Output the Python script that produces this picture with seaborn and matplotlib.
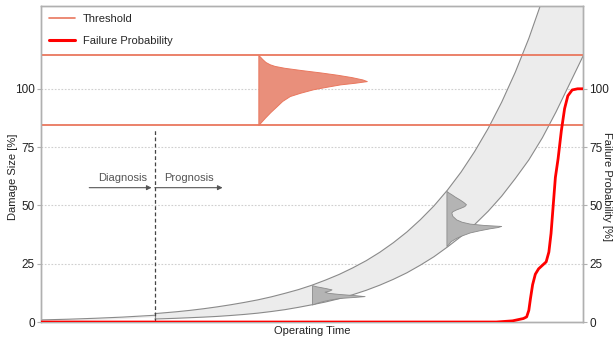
import matplotlib
matplotlib.use("Agg")
import matplotlib.pyplot as plt
from matplotlib.lines import Line2D
import pandas as pd
import seaborn as sns

# ---- data -------------------------------------------------------------
# operating time runs 0..100 (arbitrary units), damage / probability in %
diag_time = 21.0
thresh_low = 84.5
thresh_high = 114.4

# damage trend observed up to the diagnosis point
pre_time = [0, 5, 10, 15, 21]
pre_damage = [0.9, 1.2, 1.6, 2.1, 2.9]

# predicted damage band after the diagnosis point
band_time = [21, 22.5, 25, 27.5, 30, 32.5, 35, 37.5, 40, 42.5, 45, 47.5, 50,
             52.5, 55, 57.5, 60, 62.5, 65, 67.5, 70, 72.5, 75, 77.5, 80, 82.5,
             85, 87.5, 90, 92.5, 95, 97.5, 100]
band_upper = [3.6, 3.9, 4.4, 5.0, 5.7, 6.5, 7.4, 8.4, 9.5, 10.8, 12.3, 13.9, 15.8,
              18.0, 20.4, 23.2, 26.3, 29.9, 34.0, 38.6, 43.9, 49.8, 56.6, 64.3, 73.1,
              83.0, 94.3, 107.1, 121.6, 138.2, 157.0, 178.0, 203.0]
band_lower = [1.3, 1.4, 1.6, 1.85, 2.1, 2.4, 2.8, 3.25, 3.8, 4.5, 5.3, 6.3, 7.4,
              8.6, 10.0, 11.7, 13.6, 15.8, 18.3, 21.1, 24.4, 28.0, 32.2, 36.7, 41.8,
              47.5, 54.0, 61.5, 69.5, 79.0, 90.0, 102.0, 114.0]

# damage distributions (damage level, density width in time units)
pdf1_time = 50.0
pdf1_damage = [15.8, 15.3, 14.6, 14.0, 13.5, 13.0, 12.5, 12.0, 11.5, 11.1, 10.7,
               10.3, 9.6, 9.0, 8.2, 7.5]
pdf1_width = [0.0, 0.8, 2.4, 3.6, 3.2, 2.3, 3.0, 5.1, 8.0, 9.7, 7.5,
              5.0, 3.2, 2.0, 0.8, 0.0]

pdf2_time = 74.8
pdf2_damage = [56.2, 55.5, 54.8, 53.7, 52.6, 51.5, 50.5, 49.7, 48.9, 48.3, 47.5,
               46.9, 45.5, 44.0, 43.0, 42.2, 41.6, 41.2, 40.7, 40.2, 39.3, 38.4,
               37.2, 36.1, 34.7, 33.3, 32.6]
pdf2_width = [0.0, 0.4, 0.9, 1.6, 2.4, 3.1, 3.6, 3.3, 2.5, 1.8, 1.1,
              0.9, 1.1, 1.8, 2.8, 4.3, 7.0, 10.1, 9.4, 8.0, 6.0, 4.3,
              2.9, 1.8, 0.8, 0.3, 0.0]

# time-to-failure distribution between the two thresholds
pdf_fail_time = 40.1
pdf_fail_damage = [114.4, 113.8, 112.8, 111.5, 110.5, 109.8, 109.0, 108.0, 107.0,
                   106.0, 105.0, 104.0, 103.3, 102.6, 101.9, 100.8, 99.8, 98.3,
                   96.9, 94.8, 92.6, 90.0, 87.6, 85.8, 84.5]
pdf_fail_width = [0.0, 0.3, 0.7, 1.3, 2.1, 3.0, 4.8, 8.0, 11.5,
                  14.6, 17.2, 19.2, 20.0, 17.8, 15.1, 12.4, 10.1, 7.7,
                  5.8, 4.4, 3.4, 2.2, 1.2, 0.5, 0.0]

# cumulative failure probability
fail_time = [0, 84.0, 87.0, 89.0, 89.6, 90.0, 90.3, 90.7, 91.2, 91.8, 92.5, 93.2,
             93.7, 94.1, 94.5, 94.9, 95.4, 96.0, 96.6, 97.2, 98.0, 99.0, 100]
fail_prob = [0, 0, 0.5, 1.5, 2.2, 5.0, 10.0, 16.0, 20.5, 22.8, 24.3, 25.8,
             30.0, 38.0, 50.0, 62.0, 70.0, 82.0, 91.5, 97.0, 99.5, 100, 100]

prob_ticks = [0, 25, 50, 75, 100]

# ---- style ------------------------------------------------------------
sns.set_theme(style="white")
plt.rcParams["font.family"] = ["Liberation Sans", "DejaVu Sans"]
plt.rcParams["font.size"] = 8

THRESH_C = "#e9775e"
FAIL_PDF_C = "#e98f7b"
BAND_FILL = "#ececec"
BAND_EDGE = "#8a8a8a"
PDF_FILL = "#b4b4b4"
SPINE_C = "#b0b0b0"
TEXT_C = "#222222"

fig = plt.figure(figsize=(6.15, 3.39), dpi=100)
ax = fig.add_axes([0.0667, 0.0501, 0.8813, 0.9322])
ax2 = ax.twinx()

YMAX = 135.5
ax.set_xlim(0, 100)
ax.set_ylim(0, YMAX)
ax2.set_ylim(0, YMAX)

# grid
for t in prob_ticks[1:]:
    ax.axhline(t, color="#cfcfcf", lw=0.8, ls=(0, (1.5, 1.5)), zorder=0)

# observed trend
ax.fill_between(pre_time, [d - 0.6 for d in pre_damage], pre_damage,
                color=BAND_FILL, lw=0, zorder=1)
sns.lineplot(x=pre_time, y=pre_damage, ax=ax, color=BAND_EDGE, lw=0.8,
             estimator=None, zorder=3)

# predicted band
ax.fill_between(band_time, band_lower, band_upper, color=BAND_FILL, lw=0, zorder=1)
band_df = pd.DataFrame({"t": band_time * 2,
                        "d": band_upper + band_lower,
                        "edge": ["upper"] * len(band_time) + ["lower"] * len(band_time)})
sns.lineplot(data=band_df, x="t", y="d", units="edge", estimator=None, ax=ax,
             color=BAND_EDGE, lw=0.8, zorder=3)
ax.plot([band_time[0], band_time[0]], [band_lower[0], band_upper[0]],
        color=BAND_EDGE, lw=0.8, zorder=3)

# damage distributions inside the band
for base, dmg, wid in [(pdf1_time, pdf1_damage, pdf1_width),
                       (pdf2_time, pdf2_damage, pdf2_width)]:
    ax.fill_betweenx(dmg, base, [base + w for w in wid],
                     facecolor=PDF_FILL, edgecolor=BAND_EDGE, lw=0.6, zorder=4)

# time-to-failure distribution
ax.fill_betweenx(pdf_fail_damage, pdf_fail_time,
                 [pdf_fail_time + w for w in pdf_fail_width],
                 facecolor=FAIL_PDF_C, edgecolor=THRESH_C, lw=0.7, zorder=4)

# thresholds
for th in (thresh_low, thresh_high):
    ax.axhline(th, color=THRESH_C, lw=1.3, zorder=5)

# diagnosis marker
ax.plot([diag_time, diag_time], [0, 82.8], color="#444444", lw=0.9,
        ls=(0, (3, 2)), zorder=5)
arrow_kw = dict(arrowstyle="-|>", color="#555555", lw=0.8, mutation_scale=7,
                shrinkA=0, shrinkB=0)
ax.annotate("", xy=(20.4, 57.6), xytext=(8.9, 57.6), arrowprops=arrow_kw, zorder=5)
ax.annotate("", xy=(33.5, 57.6), xytext=(21.0, 57.6), arrowprops=arrow_kw, zorder=5)
ax.text(15.0, 61.6, "Diagnosis", ha="center", va="center", color="#555555", fontsize=8)
ax.text(27.2, 61.6, "Prognosis", ha="center", va="center", color="#555555", fontsize=8)

# failure probability
sns.lineplot(x=fail_time, y=fail_prob, ax=ax2, color="#ff0000", lw=2.0,
             estimator=None, zorder=6)

# axes cosmetics
ax.set_xticks([])
ax.set_yticks(prob_ticks)
ax2.set_yticks(prob_ticks)
for a in (ax, ax2):
    for s in a.spines.values():
        s.set_color(SPINE_C)
        s.set_linewidth(1.0)
    a.tick_params(axis="y", length=3, width=0.8, color=SPINE_C, pad=1.5,
                  labelsize=8.5, labelcolor=TEXT_C)
ax.tick_params(axis="y", left=True, right=False)
ax2.tick_params(axis="y", right=True, left=False)

ax.set_xlabel("Operating Time", fontsize=8, color=TEXT_C, labelpad=3)
ax.set_ylabel("Damage Size [%]", fontsize=8, color=TEXT_C, va="center", ha="center")
ax.yaxis.set_label_coords(-0.052, 0.46)
ax2.set_ylabel("Failure Probability [%]", fontsize=8, color=TEXT_C,
               rotation=270, va="center", ha="center")
ax2.yaxis.set_label_coords(1.045, 0.43)

handles = [Line2D([], [], color=THRESH_C, lw=1.2),
           Line2D([], [], color="#ff0000", lw=2.2)]
ax.legend(handles, ["Threshold", "Failure Probability"], loc="upper left",
          frameon=False, fontsize=8, handlelength=2.3, handletextpad=0.75,
          labelspacing=1.05, borderaxespad=0.35, bbox_to_anchor=(0.0, 1.0))

fig.savefig("out.png", dpi=100)
